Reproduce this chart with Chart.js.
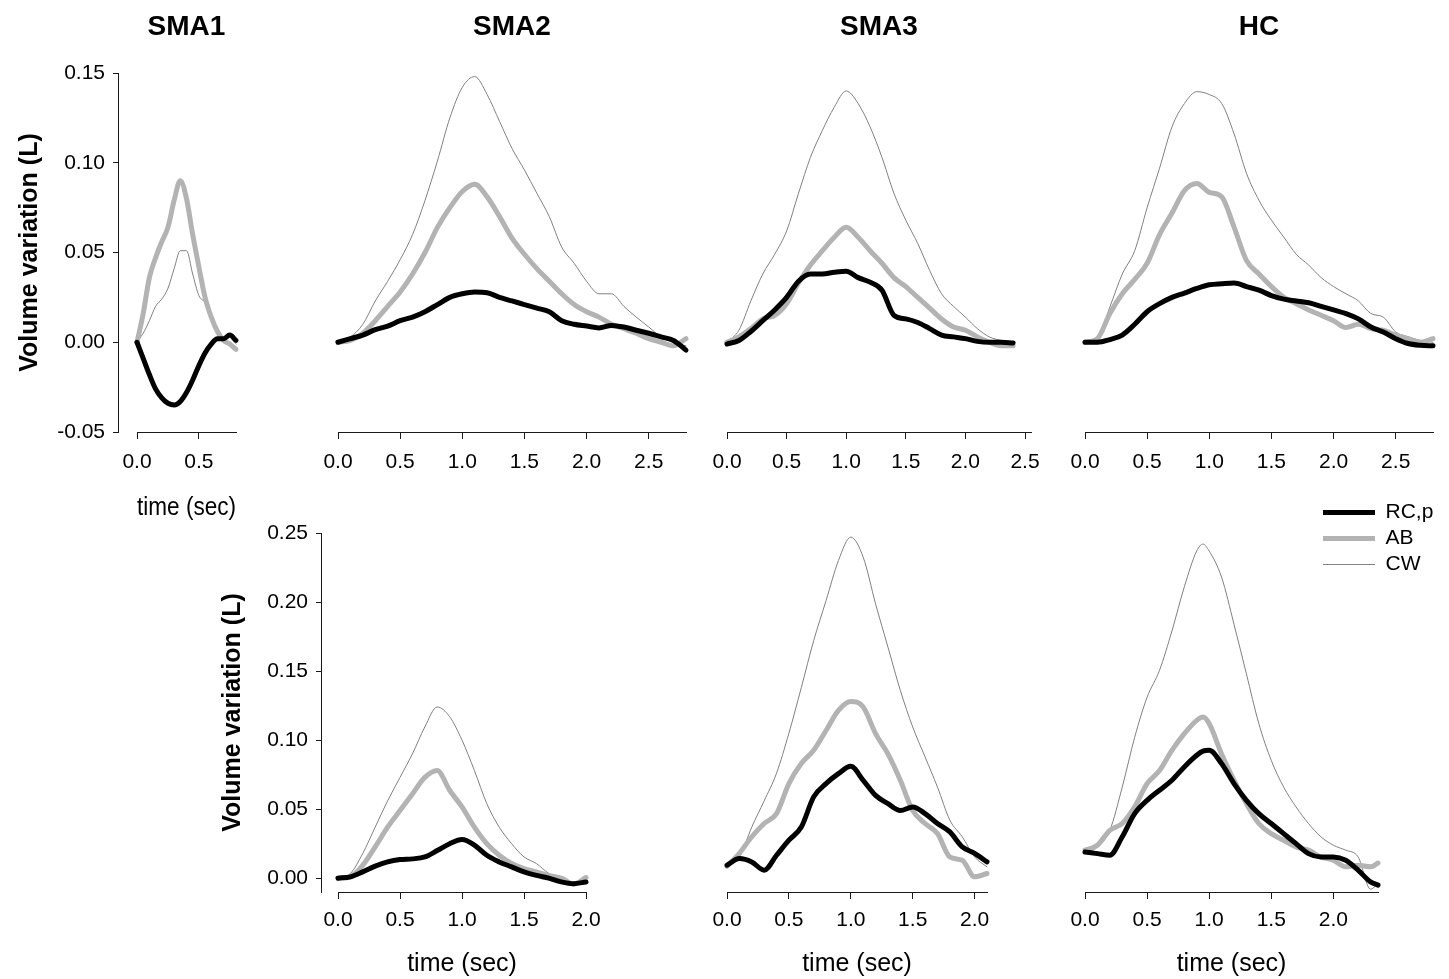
<!DOCTYPE html>
<html>
<head>
<meta charset="utf-8">
<script src="https://cdn.jsdelivr.net/npm/chart.js@4/dist/chart.umd.min.js"></script>
<style>
html,body{margin:0;padding:0;background:#fff;overflow:hidden;width:1449px;height:979px}
#fig{position:relative;width:1449px;height:979px;overflow:hidden;background:#fff}
#fig canvas{position:absolute}
</style>
</head>
<body>
<div id="fig"></div>
<script>
// ---------------- DATA ----------------
const seriesNames = ['RC,p', 'AB', 'CW'];
const groupTitles = ['SMA1', 'SMA2', 'SMA3', 'HC'];
const yTitle = 'Volume variation (L)';
const xTitle = 'time (sec)';

const yTicksTop = [-0.05, 0, 0.05, 0.10, 0.15];
const yTicksBottom = [0, 0.05, 0.10, 0.15, 0.20, 0.25];
const xTicksSMA1 = [0, 0.5];
const xTicks25 = [0, 0.5, 1.0, 1.5, 2.0, 2.5];
const xTicks20 = [0, 0.5, 1.0, 1.5, 2.0];

// top row, SMA1
const tTopSMA1 = [0,0.05,0.1,0.15,0.2,0.25,0.3,0.35,0.4,0.45,0.5,0.55,0.6,0.65,0.7,0.75,0.8];
const rcTopSMA1 = [0,-0.009,-0.018,-0.026,-0.031,-0.034,-0.035,-0.033,-0.028,-0.021,-0.013,-0.006,-0.001,0.002,0.002,0.004,0.001];
const abTopSMA1 = [0,0.016,0.036,0.047,0.056,0.064,0.079,0.090,0.080,0.060,0.042,0.025,0.014,0.006,0.001,-0.001,-0.004];
const cwTopSMA1 = [0,0.005,0.012,0.020,0.024,0.030,0.041,0.051,0.051,0.038,0.026,0.022,0.014,0.006,0.002,0.003,-0.001];

// top row, SMA2 and HC time base
const tTop28 = [0,0.1,0.2,0.3,0.4,0.5,0.6,0.7,0.8,0.9,1.0,1.1,1.2,1.3,1.4,1.5,1.6,1.7,1.8,1.9,2.0,2.1,2.2,2.3,2.4,2.5,2.6,2.7,2.8];
const rcTopSMA2 = [0,0.002,0.004,0.007,0.009,0.012,0.014,0.017,0.021,0.025,0.027,0.028,0.0276,0.025,0.023,0.021,0.019,0.017,0.012,0.010,0.009,0.008,0.0094,0.0085,0.0067,0.005,0.003,0.001,-0.0044];
const abTopSMA2 = [0,0.001,0.005,0.012,0.020,0.028,0.038,0.050,0.064,0.075,0.084,0.088,0.081,0.070,0.058,0.049,0.041,0.034,0.027,0.021,0.017,0.014,0.010,0.0076,0.005,0.002,0.0,-0.002,0.002];
const cwTopSMA2 = [0,0.003,0.010,0.023,0.034,0.046,0.060,0.079,0.101,0.125,0.142,0.148,0.138,0.123,0.108,0.096,0.083,0.070,0.053,0.044,0.034,0.027,0.027,0.020,0.014,0.0085,0.003,0.0,-0.002];

// top row, SMA3
const tTop24 = [0,0.1,0.2,0.3,0.4,0.5,0.6,0.7,0.8,0.9,1.0,1.1,1.2,1.3,1.4,1.5,1.6,1.7,1.8,1.9,2.0,2.1,2.2,2.3,2.4];
const rcTopSMA3 = [-0.001,0.001,0.006,0.012,0.018,0.025,0.034,0.038,0.038,0.039,0.0396,0.036,0.0335,0.029,0.015,0.013,0.011,0.0076,0.004,0.003,0.002,0.0005,0.0,0.0,-0.0004];
const abTopSMA3 = [0,0.003,0.0076,0.013,0.015,0.0215,0.033,0.043,0.051,0.0585,0.064,0.0585,0.051,0.044,0.036,0.031,0.025,0.019,0.013,0.0085,0.0067,0.003,0.0,-0.002,-0.002];
const cwTopSMA3 = [0,0.0067,0.023,0.038,0.049,0.062,0.083,0.103,0.118,0.131,0.140,0.133,0.120,0.103,0.083,0.068,0.055,0.040,0.027,0.020,0.014,0.0076,0.003,0.001,0.0];

// top row, HC
const rcTopHC = [0,0.0,0.0015,0.004,0.010,0.017,0.0215,0.025,0.0274,0.030,0.032,0.0326,0.033,0.031,0.029,0.026,0.024,0.023,0.022,0.020,0.018,0.016,0.013,0.0085,0.0057,0.002,-0.0007,-0.0017,-0.002];
const abTopHC = [0,0.002,0.016,0.027,0.035,0.044,0.060,0.072,0.0845,0.0885,0.0835,0.081,0.064,0.0455,0.038,0.031,0.025,0.0215,0.018,0.015,0.012,0.0082,0.010,0.0076,0.0067,0.004,0.002,0.0,0.002];
const cwTopHC = [0,0.002,0.0196,0.038,0.051,0.075,0.097,0.120,0.133,0.1396,0.138,0.133,0.116,0.094,0.079,0.068,0.0585,0.049,0.043,0.036,0.031,0.027,0.023,0.016,0.014,0.0057,0.003,0.001,0.0];

// bottom row, SMA2
const tBot20 = [0,0.1,0.2,0.3,0.4,0.5,0.6,0.7,0.8,0.9,1.0,1.1,1.2,1.3,1.4,1.5,1.6,1.7,1.8,1.9,2.0];
const rcBotSMA2 = [0,0.001,0.0046,0.0087,0.0118,0.0135,0.014,0.0154,0.020,0.025,0.028,0.024,0.0166,0.0118,0.0082,0.0046,0.002,0.0,-0.0027,-0.004,-0.0027];
const abBotSMA2 = [0,0.001,0.0094,0.0227,0.037,0.049,0.061,0.073,0.078,0.0637,0.0516,0.037,0.025,0.0166,0.0106,0.007,0.0046,0.002,0.0,-0.0043,0.0005];
const cwBotSMA2 = [0,0.0034,0.018,0.037,0.056,0.073,0.090,0.1095,0.124,0.117,0.100,0.078,0.054,0.037,0.025,0.0154,0.0106,0.0034,-0.0014,-0.004,0.0];

// bottom row, SMA3
const tBot21 = [0,0.1,0.2,0.3,0.4,0.5,0.6,0.7,0.8,0.9,1.0,1.1,1.2,1.3,1.4,1.5,1.6,1.7,1.8,1.9,2.0,2.1];
const rcBotSMA3 = [0.0094,0.0142,0.0118,0.0058,0.0166,0.0275,0.037,0.0589,0.0685,0.0757,0.081,0.0709,0.060,0.054,0.049,0.0516,0.0468,0.0396,0.0335,0.0227,0.018,0.0118];
const abBotSMA3 = [0.0087,0.018,0.030,0.0396,0.0468,0.0685,0.083,0.0926,0.107,0.1216,0.128,0.124,0.1047,0.090,0.0709,0.049,0.0396,0.0323,0.0154,0.013,0.001,0.0034];
const cwBotSMA3 = [0.0094,0.0154,0.037,0.056,0.076,0.105,0.138,0.172,0.201,0.230,0.247,0.2325,0.1987,0.1674,0.136,0.1095,0.0878,0.066,0.042,0.030,0.0154,0.0082];

// bottom row, HC
const tBotHC = [0,0.1,0.2,0.3,0.4,0.5,0.6,0.7,0.8,0.9,0.95,1.0,1.1,1.2,1.3,1.4,1.5,1.6,1.7,1.8,1.9,2.0,2.1,2.2,2.3,2.36];
const rcBotHC = [0.019,0.0178,0.0166,0.030,0.0468,0.0564,0.0637,0.0709,0.0806,0.089,0.092,0.0926,0.083,0.0685,0.0564,0.0468,0.0396,0.0323,0.025,0.0178,0.0154,0.0154,0.013,0.0058,-0.0027,-0.005];
const abBotHC = [0.0203,0.0239,0.0347,0.0396,0.0516,0.0685,0.078,0.0926,0.1047,0.1143,0.1167,0.112,0.090,0.071,0.054,0.0396,0.0323,0.0275,0.0227,0.0203,0.0154,0.013,0.0082,0.0094,0.0082,0.011];
const cwBotHC = [0.0203,0.0227,0.0347,0.066,0.102,0.131,0.1505,0.179,0.211,0.237,0.242,0.237,0.218,0.184,0.148,0.112,0.0854,0.066,0.0516,0.0396,0.030,0.0239,0.0203,0.0154,-0.008,-0.004];

// ---------------- LAYOUT / STYLE ----------------
Chart.defaults.font.family = "'Liberation Sans', Arial, Helvetica, sans-serif";
Chart.defaults.color = '#000';
const AXIS = '#1a1a1a';
const STYLES = [
  {color: '#000000', width: 5},
  {color: '#b3b3b3', width: 5},
  {color: '#808080', width: 1}
];
const TICK_FONT = 21;
const PADL = 35, PADR = 35;
const ROWS = {
  top:    {canvasTop: 0,   canvasH: 527, areaTop: 73,  areaBottom: 432, yMin: -0.05, yMax: 0.15, yTicks: yTicksTop, titlePadBottom: 4, tickPad: 11},
  bottom: {canvasTop: 523, canvasH: 456, areaTop: 533, areaBottom: 892, yMin: -0.01, yMax: 0.25, yTicks: yTicksBottom, titlePadBottom: 0, tickPad: 9}
};

const panels = [
  {row: 'top', title: groupTitles[0], left: 137, right: 236, xMax: 0.8, xTicks: xTicksSMA1, showXTitle: true, t: tTopSMA1, s: [rcTopSMA1, abTopSMA1, cwTopSMA1]},
  {row: 'top', title: groupTitles[1], left: 338, right: 686, xMax: 2.8, xTicks: xTicks25, showXTitle: false, t: tTop28, s: [rcTopSMA2, abTopSMA2, cwTopSMA2]},
  {row: 'top', title: groupTitles[2], left: 727, right: 1031, xMax: 2.55, xTicks: xTicks25, showXTitle: false, t: tTop24, s: [rcTopSMA3, abTopSMA3, cwTopSMA3]},
  {row: 'top', title: groupTitles[3], left: 1085, right: 1433, xMax: 2.8, xTicks: xTicks25, showXTitle: false, t: tTop28, s: [rcTopHC, abTopHC, cwTopHC]},
  {row: 'bottom', title: '', left: 338, right: 586, xMax: 2.0, xTicks: xTicks20, showXTitle: true, t: tBot20, s: [rcBotSMA2, abBotSMA2, cwBotSMA2]},
  {row: 'bottom', title: '', left: 727, right: 987, xMax: 2.1, xTicks: xTicks20, showXTitle: true, t: tBot21, s: [rcBotSMA3, abBotSMA3, cwBotSMA3]},
  {row: 'bottom', title: '', left: 1085, right: 1378, xMax: 2.36, xTicks: xTicks20, showXTitle: true, t: tBotHC, s: [rcBotHC, abBotHC, cwBotHC]}
];

const yAxes = [
  {row: 'top', canvasLeft: 0, axisX: 118, titlePad: 15},
  {row: 'bottom', canvasLeft: 200, axisX: 321, titlePad: 18}
];

// ---------------- BUILD ----------------
const fig = document.getElementById('fig');
function addCanvas(left, top, w, h) {
  const c = document.createElement('canvas');
  c.width = w; c.height = h;
  c.style.left = left + 'px'; c.style.top = top + 'px';
  c.style.width = w + 'px'; c.style.height = h + 'px';
  fig.appendChild(c);
  return c;
}
function makeDatasets(t, series) {
  return series.map((vals, i) => ({
    label: seriesNames[i],
    data: t.map((x, k) => ({x: x, y: vals[k]})),
    borderColor: STYLES[i].color,
    borderWidth: STYLES[i].width,
    pointRadius: 0,
    pointHoverRadius: 0,
    cubicInterpolationMode: 'monotone',
    borderCapStyle: 'round',
    borderJoinStyle: 'round',
    fill: false,
    clip: false
  }));
}

// y-axis-only charts
yAxes.forEach(a => {
  const R = ROWS[a.row];
  const PADV = 26;
  const w = a.axisX - a.canvasLeft + 12;
  const h = R.areaBottom - R.areaTop + 2 * PADV;
  const c = addCanvas(a.canvasLeft, R.areaTop - PADV, w, h);
  new Chart(c, {
    type: 'line',
    data: {datasets: []},
    options: {
      responsive: false, animation: false, devicePixelRatio: 1,
      layout: {padding: {top: PADV, bottom: PADV, left: 0, right: 0}},
      plugins: {legend: {display: false}, tooltip: {enabled: false}},
      scales: {
        x: {type: 'linear', display: false, min: 0, max: 1},
        y: {
          type: 'linear', position: 'left', min: R.yMin, max: R.yMax,
          afterFit: s => { s.width = a.axisX - a.canvasLeft; },
          afterBuildTicks: s => { s.ticks = R.yTicks.map(v => ({value: v})); },
          ticks: {font: {size: TICK_FONT}, color: '#000', padding: 8, callback: v => Number(v).toFixed(2)},
          grid: {drawOnChartArea: false, drawTicks: true, tickLength: 5, color: AXIS, tickColor: AXIS},
          border: {display: true, color: AXIS, width: 1},
          title: {display: true, text: yTitle, color: '#000', font: {size: 25, weight: 'bold'}, padding: {top: a.titlePad, bottom: 0}}
        }
      }
    }
  });
});

// data panels
panels.forEach(p => {
  const R = ROWS[p.row];
  const w = p.right - p.left + PADL + PADR;
  const xH = R.canvasTop + R.canvasH - R.areaBottom;
  const c = addCanvas(p.left - PADL, R.canvasTop, w, R.canvasH);
  new Chart(c, {
    type: 'line',
    data: {datasets: makeDatasets(p.t, p.s)},
    options: {
      responsive: false, animation: false, devicePixelRatio: 1,
      layout: {padding: {left: PADL, right: PADR, top: p.row === 'top' ? 0 : R.areaTop - R.canvasTop, bottom: 0}},
      plugins: {
        legend: {display: false},
        tooltip: {enabled: false},
        title: {
          display: p.row === 'top', text: p.title, color: '#000',
          font: {size: 28, weight: 'bold'}, padding: {top: 10.4, bottom: 29}
        }
      },
      scales: {
        x: {
          type: 'linear', min: 0, max: p.xMax,
          afterFit: s => { s.height = xH; },
          afterBuildTicks: s => { s.ticks = p.xTicks.map(v => ({value: v})); },
          ticks: {font: {size: TICK_FONT}, color: '#000', padding: R.tickPad, maxRotation: 0, autoSkip: false, callback: v => Number(v).toFixed(1)},
          grid: {drawOnChartArea: false, drawTicks: true, tickLength: 7, color: AXIS, tickColor: AXIS},
          border: {display: true, color: AXIS, width: 1},
          title: {display: p.showXTitle, text: xTitle, color: '#000', font: {size: 25}, padding: {top: 0, bottom: R.titlePadBottom}}
        },
        y: {type: 'linear', display: false, min: R.yMin, max: R.yMax}
      }
    }
  });
});

// legend
(function () {
  const c = addCanvas(1318, 497, 131, 220);
  new Chart(c, {
    type: 'line',
    data: {
      datasets: seriesNames.map((n, i) => ({
        label: n, data: [],
        borderColor: STYLES[i].color, borderWidth: STYLES[i].width,
        pointBorderColor: STYLES[i].color, pointBorderWidth: STYLES[i].width,
        backgroundColor: STYLES[i].color
      }))
    },
    options: {
      responsive: false, animation: false, devicePixelRatio: 1,
      layout: {padding: 0},
      scales: {x: {display: false}, y: {display: false}},
      plugins: {
        tooltip: {enabled: false},
        legend: {
          display: true, position: 'top', align: 'start', maxHeight: 200,
          labels: {usePointStyle: true, pointStyle: 'line', pointStyleWidth: 52, font: {size: 21}, color: '#000', padding: 5}
        }
      }
    }
  });
})();
</script>
</body>
</html>
